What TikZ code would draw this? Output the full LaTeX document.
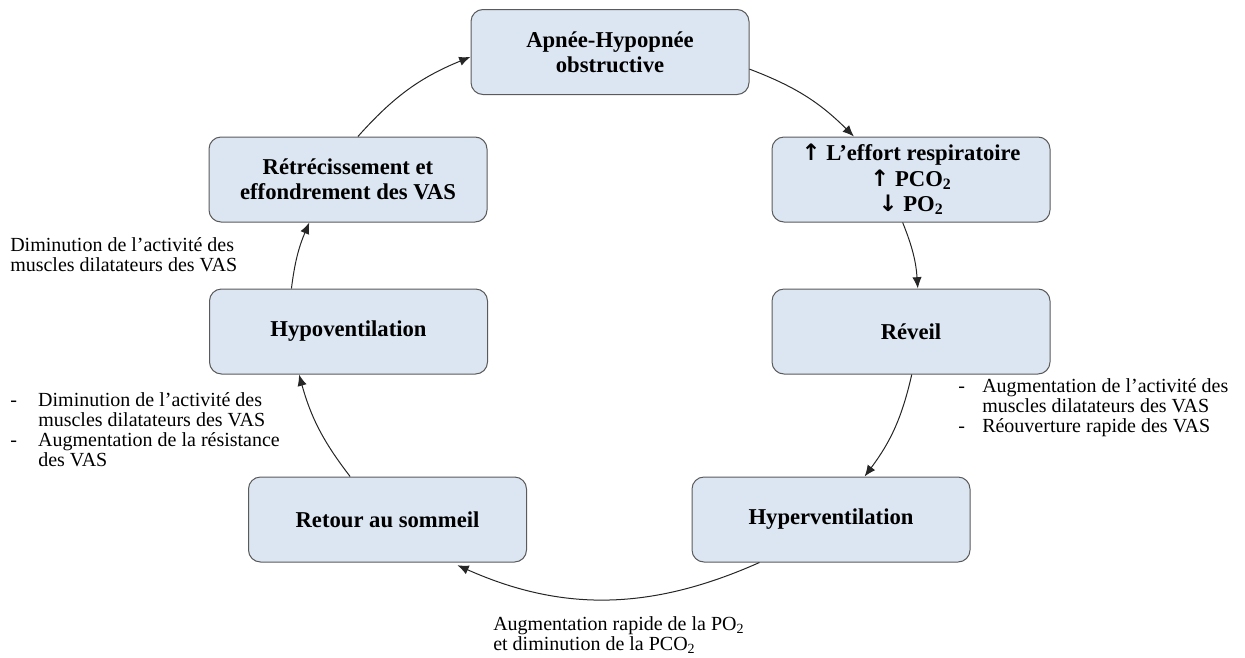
\documentclass[tikz,border=0pt]{standalone}
\usepackage{fontspec}
\setmainfont{Liberation Serif}
\newfontfamily\arrowfont{DejaVu Sans}
\usetikzlibrary{arrows.meta}

\definecolor{boxfill}{RGB}{220,230,242}
\definecolor{boxline}{RGB}{90,90,90}

\newcommand{\upar}{{\arrowfont\bfseries ↑}}
\newcommand{\downar}{{\arrowfont\bfseries ↓}}

\tikzset{
  stage/.style={draw=boxline, fill=boxfill, line width=0.75pt, rounded corners=9pt,
    minimum width=208.5pt, minimum height=63.75pt, inner sep=0pt, align=center,
    font=\fontsize{17}{19}\selectfont\bfseries},
  loopline/.style={-{Latex[length=8.5pt,width=7pt]}, line width=0.75pt, draw=black!85},
  note/.style={anchor=north west, inner sep=0pt, align=left,
    font=\fontsize{15}{15}\selectfont},
}

\begin{document}
\begin{tikzpicture}[x=0.75pt, y=-0.75pt]

\useasboundingbox (0,0) rectangle (1245,657) ;

\node [stage] (apnee) at (610,52) {Apnée-Hypopnée\\obstructive} ;
\node [stage] (effort) at (911,179.5) {\upar\ L’effort respiratoire\\\upar\ PCO\textsubscript{2}\\\downar\ PO\textsubscript{2}} ;
\node [stage] (reveil) at (911,331.5) {Réveil} ;
\node [stage] (hyper) at (831,519.5) {Hyperventilation} ;
\node [stage] (retour) at (387.5,519.5) {Retour au sommeil} ;
\node [stage] (hypo) at (348.5,331.5) {Hypoventilation} ;
\node [stage] (retrec) at (348,179.5) {Rétrécissement et\\effondrement des VAS} ;

\draw [loopline] (retrec.77) to [bend left=13] (apnee.182) ;
\draw [loopline] (apnee.-7) to [bend left=12] (effort.143) ;
\draw [loopline] (effort.259) to [bend left=9] (reveil.81) ;
\draw [loopline] (reveil.271) to [bend left=12] (hyper.52) ;
\draw [loopline, shorten >=5pt] (hyper.211) to [bend left=24] (retour.-34) ;
\draw [loopline] (retour.131) to [bend left=11] (hypo.221) ;
\draw [loopline] (hypo.143) to [bend left=8] (retrec.228) ;

\node [note] (dimtop) at (10,237) {Diminution de l’activité des\\muscles dilatateurs des VAS} ;
\node [note] (dimlist) at (10,392) {\makebox[21pt][l]{-}Diminution de l’activité des\\
  \hspace*{21pt}muscles dilatateurs des VAS\\
  \makebox[21pt][l]{-}Augmentation de la résistance\\
  \hspace*{21pt}des VAS} ;
\node [note] (auglist) at (958,378) {\makebox[18pt][l]{-}Augmentation de l’activité des\\
  \hspace*{18pt}muscles dilatateurs des VAS\\
  \makebox[18pt][l]{-}Réouverture rapide des VAS} ;
\node [note] (augpo) at (493,616) {Augmentation rapide de la PO\textsubscript{2}\\et diminution de la PCO\textsubscript{2}} ;

\end{tikzpicture}
\end{document}
